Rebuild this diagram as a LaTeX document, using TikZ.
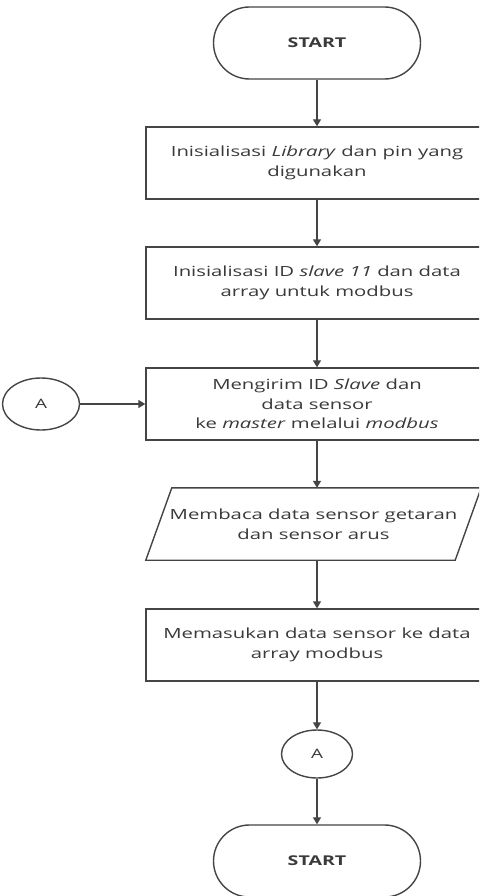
\documentclass[tikz,border=0pt]{standalone}
\usepackage{fontspec}
\setmainfont{Open Sans}[FakeStretch=1.45]
\usetikzlibrary{arrows.meta,shapes.geometric,calc}
\definecolor{ln}{HTML}{454545}
\definecolor{tx}{HTML}{3A3A3A}
\begin{document}
\begin{tikzpicture}[x=1pt,y=-1pt,
  every node/.style={font=\fontsize{14}{19.5}\selectfont, text=tx, align=center, inner sep=0pt},
  proc/.style={draw=ln, line width=1.4pt, minimum width=342pt, minimum height=72pt},
  term/.style={draw=ln, line width=1.4pt, rounded corners=36pt, minimum width=207pt, minimum height=72pt, font=\fontsize{13.5}{15}\selectfont\bfseries},
  conn/.style={draw=ln, ellipse, line width=1.4pt, font=\fontsize{13}{14}\selectfont},
  arr/.style={draw=ln, line width=1.4pt, -{Triangle[length=7pt,width=8pt]}}]
\useasboundingbox (0,0) rectangle (479,896);
\fill[white] (0,0) rectangle (479,896);
\clip (0,0) rectangle (479,896);

\node[term] (s1) at (317,43) {START};
\node[proc] (b1) at (317,163) {Inisialisasi \textit{Library} dan pin yang\\digunakan};
\node[proc] (b2) at (317,283) {Inisialisasi ID \textit{slave 11} dan data\\array untuk modbus};
\node[proc] (b3) at (317,404) {Mengirim ID \textit{Slave} dan\\data sensor\\ke \textit{master} melalui \textit{modbus}};
\node[conn, minimum width=77pt, minimum height=52pt] (a1) at (41,404) {A};
\node[minimum width=335pt, minimum height=72pt] (pr) at (313.5,524) {Membaca data sensor getaran\\dan sensor arus};
\draw[ln, line width=1.4pt] ($(pr.north west)+(26,0)$) -- (pr.north east) -- ($(pr.south east)+(-26,0)$) -- (pr.south west) -- cycle;
\node[proc] (b4) at (317,645) {Memasukan data sensor ke data\\array modbus};
\node[conn, minimum width=71pt, minimum height=48pt] (a2) at (317,754) {A};
\node[term] (s2) at (317,861) {START};

\draw[arr] (s1) -- (b1);
\draw[arr] (b1) -- (b2);
\draw[arr] (b2) -- (b3);
\draw[arr] (a1) -- (b3);
\draw[arr] (b3.south) -- (b3.south |- pr.north);
\draw[arr] (b3.south |- pr.south) -- (b4.north);
\draw[arr] (b4) -- (a2);
\draw[arr] (a2) -- (s2);
\end{tikzpicture}
\end{document}
